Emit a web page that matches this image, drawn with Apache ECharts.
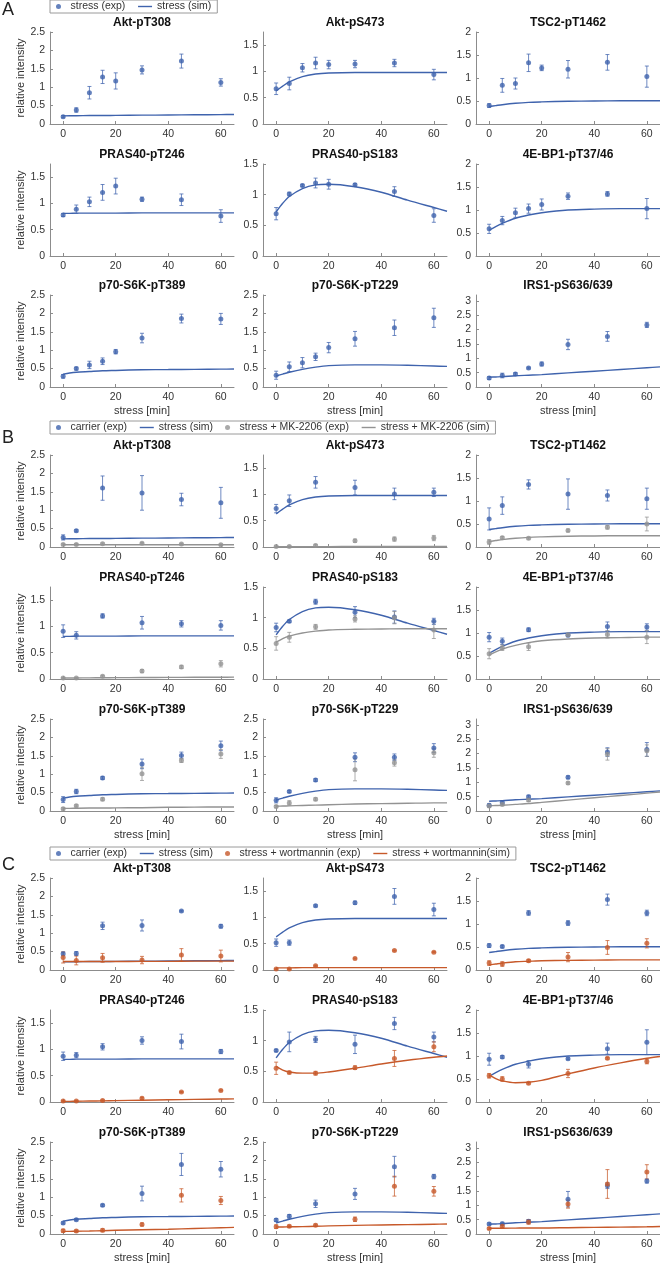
<!DOCTYPE html>
<html><head><meta charset="utf-8">
<script src="https://cdn.jsdelivr.net/npm/echarts@6/dist/echarts.min.js"></script>
<style>html,body{margin:0;padding:0;background:#fff}#c{width:660px;height:1263px}</style>
</head><body><div id="c"></div>
<script>
// ---------- data ----------
const panelTitles = ['Akt-pT308','Akt-pS473','TSC2-pT1462','PRAS40-pT246','PRAS40-pS183','4E-BP1-pT37/46','p70-S6K-pT389','p70-S6K-pT229','IRS1-pS636/639'];
const yMax = [2.5,1.75,2,1.75,1.5,2,2.5,2.5,3.2];
const yTicks = [[0,0.5,1,1.5,2,2.5],[0,0.5,1,1.5],[0,0.5,1,1.5,2],[0,0.5,1,1.5],[0,0.5,1,1.5],[0,0.5,1,1.5,2],[0,0.5,1,1.5,2,2.5],[0,0.5,1,1.5,2,2.5],[0,0.5,1,1.5,2,2.5,3]];
const xTicks = [0,20,40,60];
const timeA = [0,5,10,15,20,30,45,60];
const timeBC = [0,5,15,30,45,60];
const timeSim = [0,2.5,5,10,15,20,30,40,50,60,65];

const A_stressMean = [
 [0.2,0.38,0.85,1.28,1.17,1.47,1.71,1.13],
 [0.67,0.77,1.07,1.16,1.13,1.14,1.16,0.94],
 [0.4,0.84,0.88,1.33,1.22,1.19,1.34,1.03],
 [0.78,0.89,1.03,1.21,1.33,1.08,1.07,0.76],
 [0.69,1.01,1.15,1.19,1.17,1.16,1.05,0.66],
 [0.59,0.77,0.94,1.03,1.12,1.3,1.35,1.03],
 [0.29,0.5,0.6,0.7,0.96,1.33,1.86,1.85],
 [0.32,0.55,0.66,0.82,1.07,1.31,1.61,1.88],
 [0.31,0.4,0.45,0.66,0.8,1.48,1.76,2.16]];
const A_stressErr = [
 [0.03,0.06,0.17,0.18,0.22,0.11,0.19,0.1],
 [0.11,0.12,0.08,0.11,0.08,0.07,0.07,0.1],
 [0.04,0.15,0.12,0.19,0.06,0.19,0.17,0.23],
 [0.03,0.08,0.09,0.15,0.15,0.04,0.11,0.12],
 [0.1,0.03,0.02,0.08,0.08,0.02,0.08,0.11],
 [0.1,0.09,0.1,0.1,0.12,0.07,0.05,0.22],
 [0.05,0.04,0.1,0.09,0.06,0.13,0.12,0.15],
 [0.11,0.13,0.14,0.1,0.14,0.2,0.21,0.26],
 [0.05,0.08,0.05,0.03,0.07,0.18,0.17,0.09]];

const B_carrierMean = [
 [0.26,0.44,1.6,1.47,1.29,1.2],
 [0.73,0.88,1.23,1.13,1.01,1.04],
 [0.61,0.9,1.36,1.15,1.12,1.05],
 [0.91,0.83,1.2,1.07,1.05,1.02],
 [0.84,0.94,1.26,1.09,1.01,0.94],
 [0.91,0.82,1.07,0.95,1.14,1.13],
 [0.31,0.53,0.9,1.28,1.51,1.77],
 [0.29,0.53,0.84,1.46,1.46,1.71],
 [0.2,0.3,0.5,1.17,2.05,2.14]];
const B_carrierErr = [
 [0.07,0.03,0.33,0.47,0.17,0.42],
 [0.08,0.11,0.11,0.14,0.11,0.08],
 [0.24,0.19,0.1,0.33,0.12,0.23],
 [0.12,0.07,0.04,0.12,0.06,0.09],
 [0.07,0.02,0.04,0.09,0.1,0.05],
 [0.1,0.07,0.04,0.03,0.1,0.07],
 [0.08,0.06,0.04,0.13,0.09,0.13],
 [0.07,0.03,0.04,0.12,0.09,0.12],
 [0.05,0.05,0.05,0.05,0.15,0.24]];
const B_mkMean = [
 [0.07,0.07,0.09,0.1,0.08,0.06],
 [0.01,0.01,0.03,0.12,0.15,0.17],
 [0.11,0.2,0.19,0.36,0.43,0.5],
 [0.02,0.02,0.05,0.15,0.23,0.29],
 [0.58,0.68,0.85,0.98,1.0,0.8],
 [0.55,0.68,0.7,0.96,0.97,0.91],
 [0.06,0.14,0.32,1.01,1.37,1.55],
 [0.12,0.22,0.32,1.12,1.31,1.58],
 [0.17,0.23,0.38,0.97,1.97,2.1]];
const B_mkErr = [
 [0.02,0.02,0.02,0.02,0.02,0.02],
 [0.01,0.01,0.02,0.03,0.04,0.05],
 [0.05,0.03,0.02,0.03,0.04,0.15],
 [0.01,0.01,0.02,0.03,0.03,0.06],
 [0.11,0.08,0.04,0.05,0.1,0.14],
 [0.11,0.06,0.08,0.03,0.08,0.14],
 [0.03,0.03,0.04,0.18,0.05,0.12],
 [0.03,0.06,0.04,0.3,0.09,0.12],
 [0.04,0.04,0.05,0.04,0.2,0.2]];

const C_carrierMean = [
 [0.44,0.45,1.2,1.21,1.6,1.19],
 [0.52,0.52,1.22,1.28,1.4,1.15],
 [0.53,0.51,1.24,1.02,1.53,1.24],
 [0.87,0.89,1.05,1.17,1.15,0.96],
 [0.84,0.98,1.02,0.94,1.28,1.06],
 [0.93,0.98,0.82,0.94,1.16,1.3],
 [0.3,0.39,0.78,1.1,1.89,1.76],
 [0.38,0.48,0.82,1.09,1.83,1.56],
 [0.35,0.36,0.44,1.21,1.68,1.84]];
const C_carrierErr = [
 [0.05,0.05,0.1,0.15,0.02,0.05],
 [0.07,0.05,0.02,0.03,0.15,0.12],
 [0.04,0.03,0.05,0.05,0.12,0.06],
 [0.08,0.05,0.06,0.07,0.14,0.04],
 [0.02,0.16,0.05,0.15,0.1,0.08],
 [0.13,0.03,0.08,0.02,0.12,0.27],
 [0.03,0.03,0.03,0.2,0.3,0.21],
 [0.04,0.05,0.1,0.15,0.28,0.06],
 [0.04,0.05,0.06,0.27,0.1,0.07]];
const C_wortMean = [
 [0.34,0.26,0.33,0.27,0.41,0.38],
 [0.02,0.02,0.08,0.22,0.37,0.34],
 [0.15,0.13,0.2,0.28,0.49,0.58],
 [0.02,0.02,0.03,0.07,0.19,0.22],
 [0.55,0.48,0.47,0.56,0.71,0.9],
 [0.57,0.5,0.41,0.62,0.95,0.88],
 [0.09,0.08,0.1,0.26,1.05,0.91],
 [0.2,0.21,0.24,0.4,1.3,1.16],
 [0.19,0.27,0.42,1.04,1.74,2.16]];
const C_wortErr = [
 [0.15,0.12,0.12,0.1,0.17,0.16],
 [0.01,0.01,0.01,0.01,0.01,0.01],
 [0.05,0.05,0.03,0.1,0.15,0.1],
 [0.01,0.01,0.01,0.02,0.01,0.01],
 [0.1,0.02,0.03,0.03,0.13,0.08],
 [0.05,0.05,0.02,0.09,0.02,0.05],
 [0.04,0.03,0.04,0.04,0.18,0.11],
 [0.05,0.03,0.03,0.06,0.27,0.13],
 [0.03,0.05,0.08,0.14,0.5,0.25]];

const sim_stress = [
 [0.22,0.225,0.225,0.23,0.23,0.235,0.24,0.245,0.25,0.255,0.26],
 [0.63,0.72,0.8,0.9,0.95,0.97,0.98,0.98,0.98,0.98,0.98],
 [0.38,0.4,0.42,0.45,0.47,0.48,0.495,0.5,0.505,0.505,0.505],
 [0.81,0.81,0.815,0.815,0.815,0.815,0.82,0.82,0.82,0.82,0.82],
 [0.72,0.86,0.97,1.1,1.16,1.17,1.13,1.04,0.91,0.79,0.73],
 [0.56,0.64,0.71,0.82,0.89,0.94,1.0,1.02,1.03,1.03,1.03],
 [0.35,0.38,0.4,0.42,0.44,0.45,0.47,0.475,0.48,0.485,0.49],
 [0.3,0.35,0.4,0.48,0.54,0.58,0.6,0.6,0.59,0.57,0.56],
 [0.34,0.35,0.36,0.39,0.41,0.43,0.49,0.55,0.61,0.67,0.7]];
const sim_mk = [
 [0.06,0.06,0.06,0.06,0.06,0.06,0.06,0.06,0.06,0.06,0.06],
 [0.005,0.005,0.005,0.006,0.007,0.008,0.009,0.01,0.01,0.01,0.01],
 [0.12,0.14,0.16,0.19,0.21,0.22,0.235,0.24,0.245,0.245,0.245],
 [0.02,0.02,0.02,0.022,0.024,0.026,0.028,0.03,0.032,0.034,0.035],
 [0.6,0.66,0.7,0.75,0.78,0.8,0.81,0.815,0.82,0.82,0.82],
 [0.52,0.59,0.65,0.73,0.79,0.83,0.87,0.89,0.9,0.91,0.91],
 [0.07,0.07,0.075,0.08,0.08,0.085,0.09,0.1,0.105,0.11,0.11],
 [0.13,0.135,0.14,0.15,0.16,0.17,0.19,0.2,0.21,0.22,0.22],
 [0.18,0.19,0.2,0.23,0.26,0.3,0.38,0.46,0.54,0.62,0.66]];
const sim_wort = [
 [0.23,0.23,0.23,0.23,0.23,0.23,0.235,0.235,0.24,0.24,0.24],
 [0.04,0.04,0.04,0.045,0.045,0.045,0.045,0.045,0.045,0.045,0.045],
 [0.11,0.13,0.15,0.18,0.19,0.2,0.21,0.215,0.22,0.22,0.22],
 [0.01,0.012,0.014,0.018,0.022,0.026,0.034,0.042,0.05,0.057,0.06],
 [0.58,0.52,0.49,0.47,0.47,0.49,0.55,0.62,0.68,0.73,0.75],
 [0.59,0.51,0.46,0.42,0.43,0.47,0.61,0.74,0.85,0.95,0.99],
 [0.07,0.07,0.075,0.08,0.09,0.1,0.115,0.13,0.15,0.17,0.18],
 [0.19,0.19,0.195,0.2,0.21,0.22,0.235,0.245,0.255,0.265,0.27],
 [0.2,0.2,0.2,0.205,0.21,0.21,0.22,0.23,0.24,0.25,0.26]];

// ---------- layout / style ----------
const FONT = "'Liberation Sans', Arial, Helvetica, sans-serif";
const BLUE = '#3f63ad', GRAY = '#939393', ORANGE = '#c7592a';
const AX = '#8c8c8c', TXT = '#333333';
const colLeft = [50, 263, 476], W = 184, H = 92;
const sectionTops = [[32,164,295],[455,587,719],[878,1010,1142]];

const option = {
  animation: false,
  backgroundColor: '#fff',
  textStyle: {fontFamily: FONT},
  title: [], grid: [], xAxis: [], yAxis: [], series: [], legend: []
};

function errSeries(gi, name, color, t, mean, err) {
  return {
    type: 'custom', name: name + ' err', xAxisIndex: gi, yAxisIndex: gi, z: 3,
    data: t.map((x, i) => [x, mean[i], err[i]]),
    encode: {x: 0, y: 1},
    renderItem: function (params, api) {
      const x = api.value(0), y = api.value(1), e = api.value(2);
      const a = api.coord([x, y + e]), b = api.coord([x, y - e]);
      const cw = 2, st = {stroke: color, lineWidth: 1, opacity: 0.75};
      return {type: 'group', children: [
        {type: 'line', shape: {x1: a[0], y1: a[1], x2: b[0], y2: b[1]}, style: st},
        {type: 'line', shape: {x1: a[0]-cw, y1: a[1], x2: a[0]+cw, y2: a[1]}, style: st},
        {type: 'line', shape: {x1: b[0]-cw, y1: b[1], x2: b[0]+cw, y2: b[1]}, style: st}
      ]};
    }
  };
}
function ptSeries(gi, name, color, t, mean) {
  return {type: 'scatter', name: name, xAxisIndex: gi, yAxisIndex: gi, z: 4,
    symbol: 'circle', symbolSize: 5, itemStyle: {color: color},
    data: t.map((x, i) => [x, mean[i]])};
}
function simSeries(gi, name, color, vals) {
  return {type: 'line', name: name, xAxisIndex: gi, yAxisIndex: gi, z: 2,
    symbol: 'none', smooth: 0.3, lineStyle: {color: color, width: 1.4}, itemStyle: {color: color},
    data: timeSim.map((x, i) => [x, vals[i]])};
}

const sections = [
  {letter: 'A', legendTop: 0, exp: [
      {name: 'stress (exp)', color: BLUE, t: timeA, mean: A_stressMean, err: A_stressErr}],
    sim: [{name: 'stress (sim)', color: BLUE, vals: sim_stress}]},
  {letter: 'B', legendTop: 421, exp: [
      {name: 'carrier (exp)', color: BLUE, t: timeBC, mean: B_carrierMean, err: B_carrierErr},
      {name: 'stress + MK-2206 (exp)', color: GRAY, t: timeBC, mean: B_mkMean, err: B_mkErr}],
    sim: [{name: 'stress (sim)', color: BLUE, vals: sim_stress},
          {name: 'stress + MK-2206 (sim)', color: GRAY, vals: sim_mk}]},
  {letter: 'C', legendTop: 847, exp: [
      {name: 'carrier (exp)', color: BLUE, t: timeBC, mean: C_carrierMean, err: C_carrierErr},
      {name: 'stress + wortmannin (exp)', color: ORANGE, t: timeBC, mean: C_wortMean, err: C_wortErr}],
    sim: [{name: 'stress (sim)', color: BLUE, vals: sim_stress},
          {name: 'stress + wortmannin(sim)', color: ORANGE, vals: sim_wort}]}
];

const letterTops = [1, 429, 856];
let gi = 0;
sections.forEach((sec, si) => {
  option.title.push({text: sec.letter, left: 2, top: letterTops[si], padding: 0,
    textStyle: {fontSize: 18, fontWeight: 'normal', color: '#222', fontFamily: FONT}});
  // legend order: exp1, sim1, exp2, sim2
  const legendData = [];
  sec.exp.forEach((e, k) => {
    legendData.push({name: e.name, icon: 'circle'});
    legendData.push({name: sec.sim[k].name, itemStyle: {opacity: 0}, lineStyle: {width: 1.4}});
  });
  option.legend.push({
    left: 50, top: sec.legendTop, orient: 'horizontal', padding: [1, 6],
    borderColor: '#9a9a9a', borderWidth: 1, backgroundColor: '#fff',
    itemWidth: 14, itemHeight: 5, itemGap: 12, selectedMode: false,
    textStyle: {fontSize: 10.5, color: TXT, fontFamily: FONT},
    data: legendData
  });
  for (let p = 0; p < 9; p++) {
    const r = Math.floor(p / 3), c = p % 3;
    const top = sectionTops[si][r], left = colLeft[c];
    option.grid.push({left: left, top: top, width: W, height: H, containLabel: false, outerBoundsMode: 'none'});
    option.title.push({text: panelTitles[p], left: left + W / 2, top: top - 15, textAlign: 'center', padding: 0,
      textStyle: {fontSize: 12, fontWeight: 'bold', color: '#111', fontFamily: FONT}});
    option.xAxis.push({gridIndex: gi, type: 'value', min: -5, max: 65,
      axisLine: {show: true, onZero: false, lineStyle: {color: AX, width: 1}},
      axisTick: {show: true, inside: true, length: 3, customValues: xTicks, lineStyle: {color: AX}},
      axisLabel: {customValues: xTicks, fontSize: 10.5, color: TXT, margin: 5, fontFamily: FONT},
      splitLine: {show: false},
      name: r === 2 ? 'stress [min]' : '', nameLocation: 'middle', nameGap: 18,
      nameTextStyle: {fontSize: 11, color: TXT, fontFamily: FONT}});
    option.yAxis.push({gridIndex: gi, type: 'value', min: 0, max: yMax[p],
      axisLine: {show: true, onZero: false, lineStyle: {color: AX, width: 1}},
      axisTick: {show: true, inside: true, length: 3, customValues: yTicks[p], lineStyle: {color: AX}},
      axisLabel: {customValues: yTicks[p], fontSize: 10.5, color: TXT, margin: 5, fontFamily: FONT},
      splitLine: {show: false},
      name: c === 0 ? 'relative intensity' : '', nameLocation: 'middle', nameGap: 24,
      nameTextStyle: {fontSize: 11, color: TXT, fontFamily: FONT}});
    sec.sim.forEach(s => option.series.push(simSeries(gi, s.name, s.color, s.vals[p])));
    sec.exp.forEach(e => {
      option.series.push(errSeries(gi, e.name, e.color, e.t, e.mean[p], e.err[p]));
      option.series.push(ptSeries(gi, e.name, e.color, e.t, e.mean[p]));
    });
    gi++;
  }
});

const chart = echarts.init(document.getElementById('c'), null, {renderer: 'canvas'});
chart.setOption(option);
</script>
</body></html>
